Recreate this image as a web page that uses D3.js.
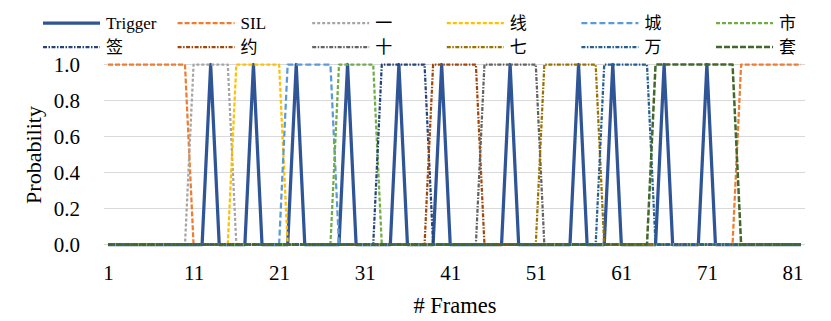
<!DOCTYPE html>
<html>
<head>
<meta charset="utf-8">
<script src="https://cdn.jsdelivr.net/npm/d3@7"></script>
<style>
  body { margin: 0; background: #fff; }
</style>
</head>
<body>
<div id="chart"></div>
<script>
// frames 1..82
const frames = d3.range(1, 83);
const seriesNames = ["Trigger", "SIL", "一", "线", "城", "市", "签", "约", "十", "七", "万", "套"];
const yTicks = [0, 0.2, 0.4, 0.6, 0.8, 1.0];
const xTicks = [1, 11, 21, 31, 41, 51, 61, 71, 81];

const trigger = [
  0,0,0,0,0,0,0,0,0,0, 0,0,1,0,0,0,0,1,0,0, 0,0,1,0,0,0,0,0,1,0, 0,0,0,0,1,0,0,0,0,1,
  0,0,0,0,0,0,0,1,0,0, 0,0,0,0,0,1,0,0,0,1, 0,0,0,0,0,1,0,0,0,0, 1,0,0,0,0,0,0,0,0,0, 0,0];
const sil = [
  1,1,1,1,1,1,1,1,1,1, 0,0,0,0,0,0,0,0,0,0, 0,0,0,0,0,0,0,0,0,0, 0,0,0,0,0,0,0,0,0,0,
  0,0,0,0,0,0,0,0,0,0, 0,0,0,0,0,0,0,0,0,0, 0,0,0,0,0,0,0,0,0,0, 0,0,0,0,1,1,1,1,1,1, 1,1];
const yi = [
  0,0,0,0,0,0,0,0,0,0, 1,1,1,1,1,0,0,0,0,0, 0,0,0,0,0,0,0,0,0,0, 0,0,0,0,0,0,0,0,0,0,
  0,0,0,0,0,0,0,0,0,0, 0,0,0,0,0,0,0,0,0,0, 0,0,0,0,0,0,0,0,0,0, 0,0,0,0,0,0,0,0,0,0, 0,0];
const xian = [
  0,0,0,0,0,0,0,0,0,0, 0,0,0,0,0,1,1,1,1,1, 1,0,0,0,0,0,0,0,0,0, 0,0,0,0,0,0,0,0,0,0,
  0,0,0,0,0,0,0,0,0,0, 0,0,0,0,0,0,0,0,0,0, 0,0,0,0,0,0,0,0,0,0, 0,0,0,0,0,0,0,0,0,0, 0,0];
const cheng = [
  0,0,0,0,0,0,0,0,0,0, 0,0,0,0,0,0,0,0,0,0, 0,1,1,1,1,1,1,0,0,0, 0,0,0,0,0,0,0,0,0,0,
  0,0,0,0,0,0,0,0,0,0, 0,0,0,0,0,0,0,0,0,0, 0,0,0,0,0,0,0,0,0,0, 0,0,0,0,0,0,0,0,0,0, 0,0];
const shi = [
  0,0,0,0,0,0,0,0,0,0, 0,0,0,0,0,0,0,0,0,0, 0,0,0,0,0,0,0,1,1,1, 1,1,0,0,0,0,0,0,0,0,
  0,0,0,0,0,0,0,0,0,0, 0,0,0,0,0,0,0,0,0,0, 0,0,0,0,0,0,0,0,0,0, 0,0,0,0,0,0,0,0,0,0, 0,0];
const qian = [
  0,0,0,0,0,0,0,0,0,0, 0,0,0,0,0,0,0,0,0,0, 0,0,0,0,0,0,0,0,0,0, 0,0,1,1,1,1,1,1,0,0,
  0,0,0,0,0,0,0,0,0,0, 0,0,0,0,0,0,0,0,0,0, 0,0,0,0,0,0,0,0,0,0, 0,0,0,0,0,0,0,0,0,0, 0,0];
const yue = [
  0,0,0,0,0,0,0,0,0,0, 0,0,0,0,0,0,0,0,0,0, 0,0,0,0,0,0,0,0,0,0, 0,0,0,0,0,0,0,0,1,1,
  1,1,1,1,0,0,0,0,0,0, 0,0,0,0,0,0,0,0,0,0, 0,0,0,0,0,0,0,0,0,0, 0,0,0,0,0,0,0,0,0,0, 0,0];
const shi2 = [
  0,0,0,0,0,0,0,0,0,0, 0,0,0,0,0,0,0,0,0,0, 0,0,0,0,0,0,0,0,0,0, 0,0,0,0,0,0,0,0,0,0,
  0,0,0,0,1,1,1,1,1,1, 1,0,0,0,0,0,0,0,0,0, 0,0,0,0,0,0,0,0,0,0, 0,0,0,0,0,0,0,0,0,0, 0,0];
const qi = [
  0,0,0,0,0,0,0,0,0,0, 0,0,0,0,0,0,0,0,0,0, 0,0,0,0,0,0,0,0,0,0, 0,0,0,0,0,0,0,0,0,0,
  0,0,0,0,0,0,0,0,0,0, 0,1,1,1,1,1,1,1,0,0, 0,0,0,0,0,0,0,0,0,0, 0,0,0,0,0,0,0,0,0,0, 0,0];
const wan = [
  0,0,0,0,0,0,0,0,0,0, 0,0,0,0,0,0,0,0,0,0, 0,0,0,0,0,0,0,0,0,0, 0,0,0,0,0,0,0,0,0,0,
  0,0,0,0,0,0,0,0,0,0, 0,0,0,0,0,0,0,0,1,1, 1,1,1,1,0,0,0,0,0,0, 0,0,0,0,0,0,0,0,0,0, 0,0];
const tao = [
  0,0,0,0,0,0,0,0,0,0, 0,0,0,0,0,0,0,0,0,0, 0,0,0,0,0,0,0,0,0,0, 0,0,0,0,0,0,0,0,0,0,
  0,0,0,0,0,0,0,0,0,0, 0,0,0,0,0,0,0,0,0,0, 0,0,0,0,1,1,1,1,1,1, 1,1,1,1,0,0,0,0,0,0, 0,0];

const seriesValues = [trigger, sil, yi, xian, cheng, shi, qian, yue, shi2, qi, wan, tao];

// styles kept apart from data
const colors = ["#2f5597", "#ed7d31", "#a5a5a5", "#ffc000", "#5b9bd5", "#70ad47",
                "#264478", "#9e480e", "#636363", "#997300", "#255e91", "#43682b"];
const dashes = [null, "5,2", "3,2", "4,2", "6,3", "4,2",
                "4,1.5,1.5,1.5", "4,1.5,1.5,1.5", "4,1.5,1.5,1.5", "4,1.5,1.5,1.5", "4,1.5,1.5,1.5", "6,2"];
const widths = [3.25, 2.25, 2.25, 2.25, 2.25, 2.25, 2.25, 2.25, 2.25, 2.25, 2.25, 2.5];

const width = 831, height = 321;
const svg = d3.select("#chart").append("svg").attr("width", width).attr("height", height);

const x = d3.scaleLinear().domain([1, 82]).range([108, 801]);
const y = d3.scaleLinear().domain([0, 1]).range([244.5, 64.5]);

// gridlines
svg.append("g")
  .selectAll("line")
  .data(yTicks)
  .join("line")
  .attr("x1", 104).attr("x2", 805)
  .attr("y1", d => y(d)).attr("y2", d => y(d))
  .attr("stroke", "#d9d9d9").attr("stroke-width", 1);

// axes (labels only)
const yAxis = svg.append("g")
  .attr("transform", "translate(108,0)")
  .call(d3.axisLeft(y).tickValues(yTicks).tickFormat(d3.format(".1f")).tickSize(0).tickPadding(28));
yAxis.select(".domain").remove();
yAxis.attr("font-family", "Liberation Serif").attr("font-size", 21);
yAxis.selectAll("text").attr("fill", "#000");

const xAxis = svg.append("g")
  .attr("transform", "translate(0,244.5)")
  .call(d3.axisBottom(x).tickValues(xTicks).tickFormat(d3.format("d")).tickSize(0).tickPadding(21));
xAxis.select(".domain").remove();
xAxis.attr("font-family", "Liberation Serif").attr("font-size", 21);
xAxis.selectAll("text").attr("fill", "#000");

svg.append("text")
  .attr("transform", "translate(41,155) rotate(-90)")
  .attr("text-anchor", "middle")
  .style("font-family", "Liberation Serif")
  .style("font-size", "22px")
  .text("Probability");

svg.append("text")
  .attr("x", 455).attr("y", 313)
  .attr("text-anchor", "middle")
  .style("font-family", "Liberation Serif")
  .style("font-size", "22.5px")
  .text("# Frames");

// series
const line = d3.line().x((d, i) => x(frames[i])).y(d => y(d));
seriesValues.forEach((vals, i) => {
  svg.append("path")
    .datum(vals)
    .attr("fill", "none")
    .attr("stroke", colors[i])
    .attr("stroke-width", widths[i])
    .attr("stroke-dasharray", dashes[i])
    .attr("stroke-linejoin", "round")
    .attr("d", line);
});

// legend, 2 rows x 6 columns
const legend = svg.append("g");
seriesNames.forEach((name, i) => {
  const col = i % 6, row = Math.floor(i / 6);
  const lx = 43 + col * 134.6, ly = 23 + row * 24;
  legend.append("line")
    .attr("x1", lx).attr("x2", lx + 57)
    .attr("y1", ly).attr("y2", ly)
    .attr("stroke", colors[i])
    .attr("stroke-width", widths[i])
    .attr("stroke-dasharray", dashes[i]);
  legend.append("text")
    .attr("x", lx + 63).attr("y", ly)
    .attr("dy", "0.35em")
    .style("font-family", i < 2 ? "Liberation Serif" : "Noto Sans CJK SC")
    .style("font-size", "17px")
    .text(name);
});
</script>
</body>
</html>
